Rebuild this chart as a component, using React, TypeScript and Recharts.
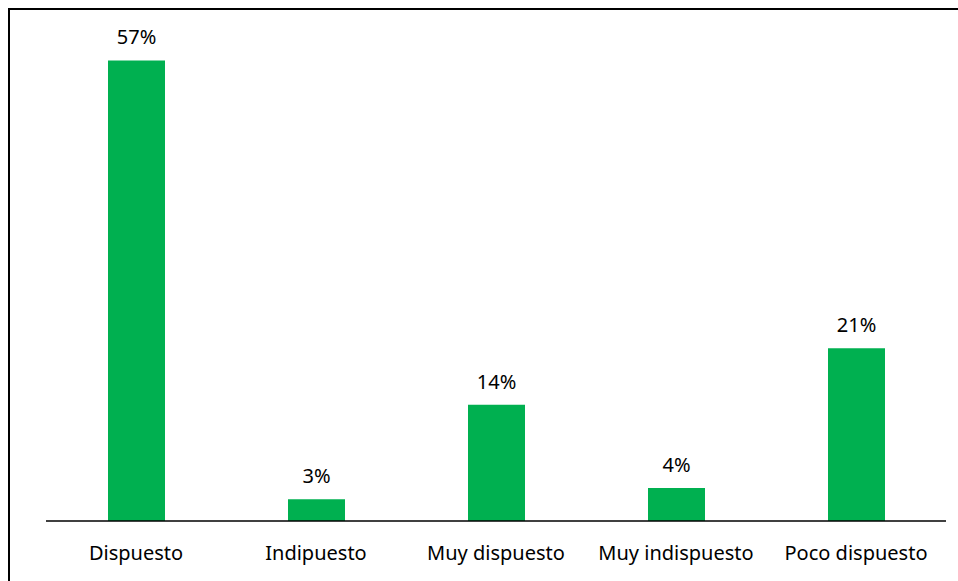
import React from "react";
import { BarChart, Bar, XAxis, YAxis, LabelList } from "recharts";

const categories = ["Dispuesto", "Indipuesto", "Muy dispuesto", "Muy indispuesto", "Poco dispuesto"];
const values = [57.1, 2.7, 14.4, 4.1, 21.4];
const yDomain: [number, number] = [0, 60];

const data = categories.map((name, i) => ({ name, value: values[i] }));

const FONT = "'Noto Sans', sans-serif";

export default function App() {
  return (
    <div
      style={{
        position: "fixed",
        left: 8,
        top: 8,
        width: 950,
        height: 573,
        borderLeft: "2px solid #000",
        borderTop: "2px solid #000",
        boxSizing: "border-box",
        background: "#fff",
        overflow: "hidden",
      }}
    >
      <BarChart
        width={948}
        height={571}
        data={data}
        margin={{ top: 27, right: 12, bottom: 0, left: 36 }}
        barCategoryGap={0}
      >
        <YAxis hide domain={yDomain} />
        <XAxis
          dataKey="name"
          height={60}
          axisLine={{ stroke: "#000", strokeWidth: 1.5 }}
          tickLine={false}
          tickMargin={19}
          interval={0}
          tick={{ fill: "#000", fontSize: 20, fontFamily: FONT }}
        />
        <Bar dataKey="value" fill="#00B050" barSize={57} isAnimationActive={false}>
          <LabelList
            dataKey="value"
            position="top"
            offset={16}
            formatter={(v: number) => `${Math.round(v)}%`}
            style={{ fill: "#000", fontSize: 20, fontFamily: FONT }}
          />
        </Bar>
      </BarChart>
    </div>
  );
}
